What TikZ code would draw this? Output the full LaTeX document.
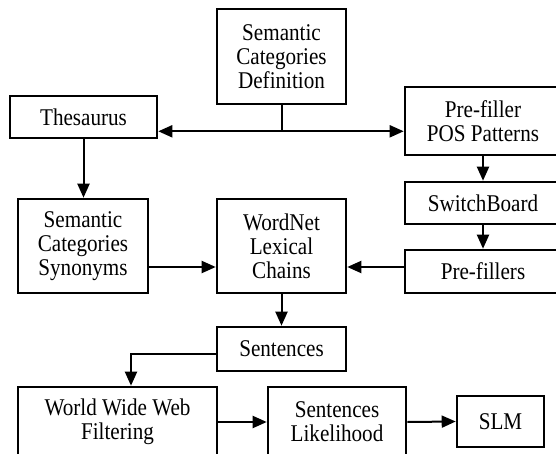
\documentclass[tikz,border=0pt]{standalone}
\usepackage{fontspec}
\setmainfont{Liberation Serif}[FakeStretch=0.88]
\usetikzlibrary{arrows.meta, positioning, calc}

\tikzset{
    % Box style
    block/.style={
        rectangle,
        draw=black,
        line width=1.3pt,
        align=center,
        inner sep=0pt,
        font=\fontsize{12}{12}\selectfont
    },
    % Line styles
    arrow/.style={
        -{Triangle[length=7pt,width=6pt]},
        line width=1pt,
        draw=black
    },
    plainline/.style={
        line width=1pt,
        draw=black
    }
}

\begin{document}
\begin{tikzpicture}[x=0.5pt, y=-0.5pt]
    \path[use as bounding box, clip] (0,0) rectangle (556,454);

    \node[block, minimum width=64.5pt, minimum height=47.5pt] (def) at (281.5,56.5) {Semantic\\Categories\\Definition};
    \node[block, minimum width=73.5pt, minimum height=21pt] (thes) at (83.5,117) {Thesaurus};
    \node[block, minimum width=78pt, minimum height=34pt] (pos) at (483,121) {Pre-filler\\POS Patterns};
    \node[block, minimum width=78pt, minimum height=21pt] (sw) at (483,203) {SwitchBoard};
    \node[block, minimum width=78pt, minimum height=21.5pt] (pf) at (483,271.5) {Pre-fillers};

    \node[block, minimum width=65pt, minimum height=47pt] (syn) at (83,246) {Semantic\\Categories\\Synonyms};
    \node[block, minimum width=64.5pt, minimum height=47pt] (wn) at (281.5,246) {WordNet\\Lexical\\Chains};
    \node[block, minimum width=64.5pt, minimum height=22pt] (sent) at (281.5,349) {Sentences};

    \node[block, minimum width=99.5pt, minimum height=35pt] (www) at (117.5,422) {World Wide Web\\Filtering};
    \node[block, minimum width=69pt, minimum height=35pt] (lik) at (337,422) {Sentences\\Likelihood};
    \node[block, minimum width=43.5pt, minimum height=25.5pt] (slm) at (500.5,421.5) {SLM};

    \draw[plainline] (def.south) -- ++(0,26) coordinate (split);
    \draw[arrow] (split) -- (split -| thes.east);
    \draw[arrow] (split) -- (split -| pos.west);
    \draw[arrow] (thes.south) -- (thes.south |- syn.north);
    \draw[arrow] (pos.south) -- (sw.north);
    \draw[arrow] (sw.south) -- (pf.north);
    \draw[arrow] ([yshift=-10.5pt]syn.east) -- ([yshift=-10.5pt]wn.west);
    \draw[arrow] ([yshift=2.25pt]pf.west) -- ([yshift=-10.5pt]wn.east);
    \draw[arrow] (wn.south) -- (sent.north);
    \draw[arrow] ([yshift=-2.5pt]sent.west) -| ([xshift=6.75pt]www.north);
    \draw[arrow] (www.east) -- (lik.west);
    \draw[arrow] (lik.east) -- (slm.west);
\end{tikzpicture}
\end{document}
